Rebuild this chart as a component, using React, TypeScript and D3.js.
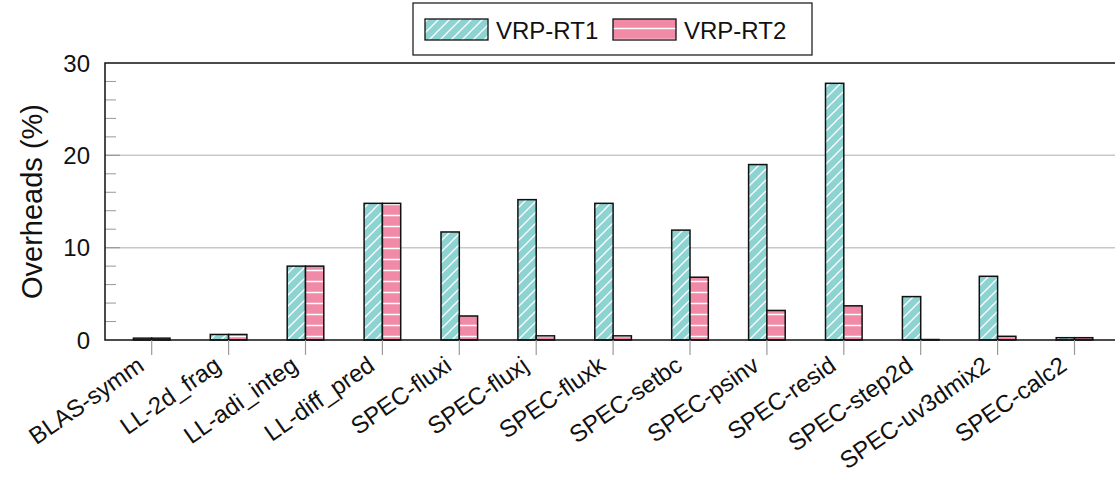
import React from 'react';
import * as d3 from 'd3';

const categories = [
  'BLAS-symm', 'LL-2d_frag', 'LL-adi_integ', 'LL-diff_pred', 'SPEC-fluxi', 'SPEC-fluxj',
  'SPEC-fluxk', 'SPEC-setbc', 'SPEC-psinv', 'SPEC-resid', 'SPEC-step2d', 'SPEC-uv3dmix2', 'SPEC-calc2',
];
const seriesNames = ['VRP-RT1', 'VRP-RT2'];
const rt1 = [0.2, 0.6, 8.0, 14.8, 11.7, 15.2, 14.8, 11.9, 19.0, 27.8, 4.7, 6.9, 0.25];
const rt2 = [0.2, 0.6, 8.0, 14.8, 2.6, 0.45, 0.45, 6.8, 3.2, 3.7, 0.05, 0.4, 0.25];
const yMajor = [0, 10, 20, 30];
const yMinor = [2, 4, 6, 8, 12, 14, 16, 18, 22, 24, 26, 28];

const W = 1115;
const H = 481;
const left = 105;
const top = 63;
const bottom = 340;
const font = '"Liberation Sans", Arial, Helvetica, sans-serif';
const colors = ['#8dd3d1', '#f08aa7'];

export default function App() {
  const x = d3.scalePoint<string>().domain(categories).range([151.7, 1074.5]);
  const inner = d3.scaleBand<string>().domain(seriesNames).range([-18.3, 18.3]);
  const y = d3.scaleLinear().domain([0, 30]).range([bottom, top]);
  const series = [rt1, rt2];

  return (
    <svg width={W} height={H} style={{ position: 'absolute', left: 0, top: 0, background: '#fff' }} fontFamily={font}>
      <defs>
        <pattern id="diag" patternUnits="userSpaceOnUse" width="11" height="11">
          <rect width="11" height="11" fill={colors[0]} />
          <path d="M-1,12 L12,-1 M-3,3 L3,-3 M8,14 L14,8" stroke="#fff" strokeWidth="1.3" />
        </pattern>
        <pattern id="horiz" patternUnits="userSpaceOnUse" width="11" height="11" y="1">
          <rect width="11" height="11" fill={colors[1]} />
          <path d="M0,5.5 L11,5.5" stroke="#fff" strokeWidth="1.5" />
        </pattern>
      </defs>

      {/* grid */}
      {[10, 20].map(v => (
        <line key={'g' + v} x1={left} x2={W} y1={y(v)} y2={y(v)} stroke="#c8c8c8" strokeWidth={1.5} />
      ))}
      {yMinor.map(v => (
        <line key={'m' + v} x1={left} x2={left + 11} y1={y(v)} y2={y(v)} stroke="#999" strokeWidth={1} />
      ))}
      {[10, 20].map(v => (
        <line key={'M' + v} x1={left} x2={left + 15} y1={y(v)} y2={y(v)} stroke="#999" strokeWidth={1.2} />
      ))}

      {/* bars */}
      {series.map((vals, s) =>
        vals.map((v, i) => (
          <rect
            key={s + '-' + i}
            x={(x(categories[i]) as number) + (inner(seriesNames[s]) as number)}
            y={y(v)}
            width={inner.bandwidth()}
            height={bottom - y(v)}
            fill={s === 0 ? 'url(#diag)' : 'url(#horiz)'}
            stroke="#111"
            strokeWidth={1.5}
          />
        ))
      )}

      {/* frame */}
      <path d={`M${W + 5},${top} L${left},${top} L${left},${bottom} L${W + 5},${bottom}`} fill="none" stroke="#111" strokeWidth={1.5} />

      {/* x ticks and labels */}
      {categories.map(c => (
        <g key={c}>
          <line x1={x(c)} x2={x(c)} y1={bottom} y2={bottom + 15} stroke="#999" strokeWidth={1.2} />
          <text
            transform={`translate(${(x(c) as number) - 11},${bottom + 22}) rotate(-35)`}
            textAnchor="end"
            dominantBaseline="central"
            fontSize={24}
            fill="#111"
          >
            {c}
          </text>
        </g>
      ))}

      {/* y labels */}
      {yMajor.map(v => (
        <text key={'t' + v} x={90} y={y(v)} textAnchor="end" dominantBaseline="central" fontSize={24} fill="#111">
          {v}
        </text>
      ))}
      <text transform={`translate(32,${(top + bottom) / 2}) rotate(-90)`} textAnchor="middle" dominantBaseline="central" fontSize={29} fill="#111">
        Overheads (%)
      </text>

      {/* legend */}
      <rect x={413} y={3} width={399} height={52} fill="#fff" stroke="#222" strokeWidth={1.3} />
      {seriesNames.map((n, s) => (
        <g key={n} transform={`translate(${425 + s * 188},0)`}>
          <rect x={0} y={19} width={63} height={21} fill={s === 0 ? 'url(#diag)' : 'url(#horiz)'} stroke="#111" strokeWidth={1.3} />
          <text x={71} y={30} dominantBaseline="central" fontSize={24} fill="#111">
            {n}
          </text>
        </g>
      ))}
    </svg>
  );
}
